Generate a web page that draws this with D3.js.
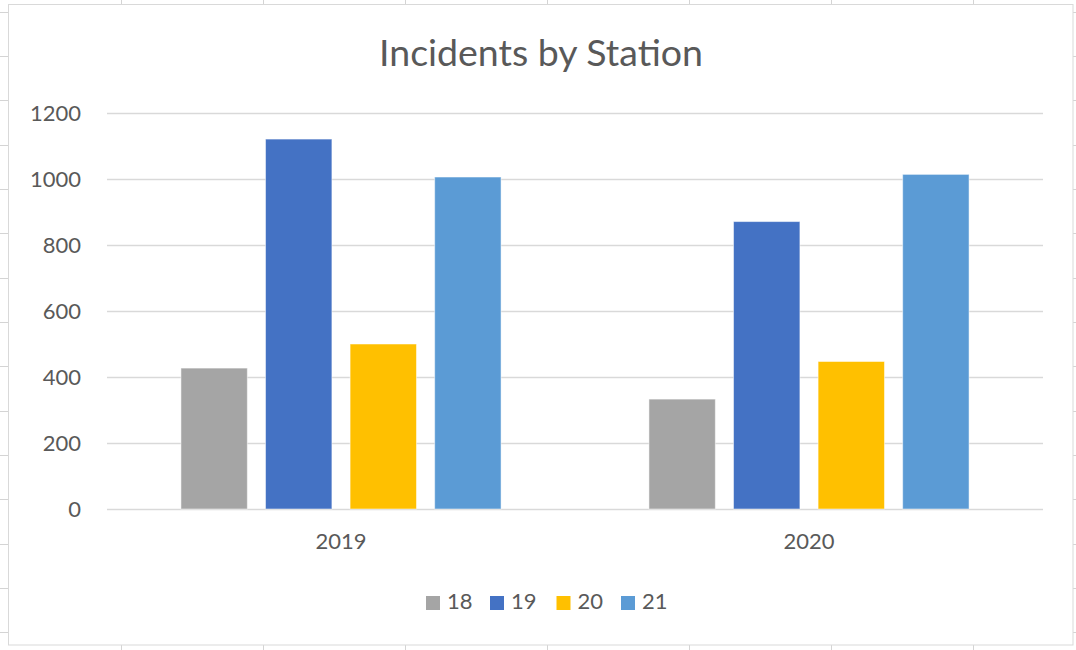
<!DOCTYPE html>
<html>
<head>
<meta charset="utf-8">
<script src="https://cdn.jsdelivr.net/npm/d3@7"></script>
<style>
  html, body { margin: 0; padding: 0; background: #ffffff; }
  svg { display: block; }
  text { font-family: Lato, "Open Sans", sans-serif; fill: #595959; }
</style>
</head>
<body>
<svg id="chart" width="1076" height="650"></svg>
<script>
// ---- data ----
const title = "Incidents by Station";
const categories = ["2019", "2020"];
const seriesNames = ["18", "19", "20", "21"];
const values18 = [427, 333];
const values19 = [1121, 871];
const values20 = [500, 447];
const values21 = [1006, 1014];
const yTicks = [0, 200, 400, 600, 800, 1000, 1200];
const colors = ["#A5A5A5", "#4472C4", "#FFC000", "#5B9BD5"];

const seriesValues = [values18, values19, values20, values21];
const data = categories.map((c, i) => ({
  category: c,
  bars: seriesNames.map((s, j) => ({ series: s, value: seriesValues[j][i] }))
}));

const W = 1076, H = 650;
const svg = d3.select("#chart");

// spreadsheet background grid (decoration)
const bg = svg.append("g");
d3.range(7).forEach(i => {
  const x = 121.5 + i * 142;
  bg.append("line").attr("x1", x).attr("x2", x).attr("y1", 0).attr("y2", H)
    .attr("stroke", "#d4d4d4").attr("stroke-width", 1);
});
d3.range(15).forEach(i => {
  const y = Math.round(11.7 + i * 44.34) + 0.5;
  bg.append("line").attr("x1", 0).attr("x2", W).attr("y1", y).attr("y2", y)
    .attr("stroke", "#d4d4d4").attr("stroke-width", 1);
});

// chart area
svg.append("rect").attr("x", 8.5).attr("y", 4.5).attr("width", 1064.5).attr("height", 640.5)
  .attr("fill", "#ffffff").attr("stroke", "#d9d9d9").attr("stroke-width", 1);

const plot = { left: 107, right: 1043, top: 113, bottom: 509 };

const y = d3.scaleLinear().domain([0, 1200]).range([plot.bottom, plot.top]);
const x0 = d3.scaleBand().domain(categories).range([plot.left, plot.right])
  .paddingInner(0.316).paddingOuter(0.158);
const x1 = d3.scaleBand().domain(seriesNames).range([0, x0.bandwidth()])
  .paddingInner(0.215).paddingOuter(0);
const color = d3.scaleOrdinal().domain(seriesNames).range(colors);

// gridlines
const yAxis = d3.axisLeft(y).tickValues(yTicks).tickFormat(d3.format("d"))
  .tickSize(-(plot.right - plot.left)).tickPadding(26);
const gy = svg.append("g").attr("transform", `translate(${plot.left},0)`).call(yAxis);
gy.select(".domain").remove();
gy.selectAll(".tick line").attr("stroke", "#d9d9d9").attr("stroke-width", 1.5);
gy.selectAll(".tick text").attr("font-size", 22).attr("fill", "#595959")
  .style("font-family", "Lato, 'Open Sans', sans-serif");

// bars
const groups = svg.append("g").selectAll("g").data(data).join("g")
  .attr("transform", d => `translate(${x0(d.category)},0)`);
groups.selectAll("rect").data(d => d.bars).join("rect")
  .attr("x", d => x1(d.series))
  .attr("y", d => y(d.value))
  .attr("width", x1.bandwidth())
  .attr("height", d => y(0) - y(d.value))
  .attr("fill", d => color(d.series))
  .attr("stroke", "rgba(255,255,255,0.5)")
  .attr("stroke-width", 1);

// category axis labels
const xAxis = d3.axisBottom(x0).tickSize(0).tickPadding(24);
const gx = svg.append("g").attr("transform", `translate(0,${plot.bottom})`).call(xAxis);
gx.select(".domain").remove();
gx.selectAll(".tick text").attr("font-size", 22).attr("fill", "#595959")
  .style("font-family", "Lato, 'Open Sans', sans-serif");

// title
svg.append("text").attr("x", 541).attr("y", 66).attr("text-anchor", "middle")
  .attr("font-size", 37.5).text(title);

// legend
const legend = svg.append("g").attr("transform", "translate(426,596)");
const itemX = [0, 64, 130.5, 195];
seriesNames.forEach((s, i) => {
  const g = legend.append("g").attr("transform", `translate(${itemX[i]},0)`);
  g.append("rect").attr("width", 14).attr("height", 14).attr("fill", color(s));
  g.append("text").attr("x", 21).attr("y", 13).attr("font-size", 22).text(s);
});
</script>
</body>
</html>
